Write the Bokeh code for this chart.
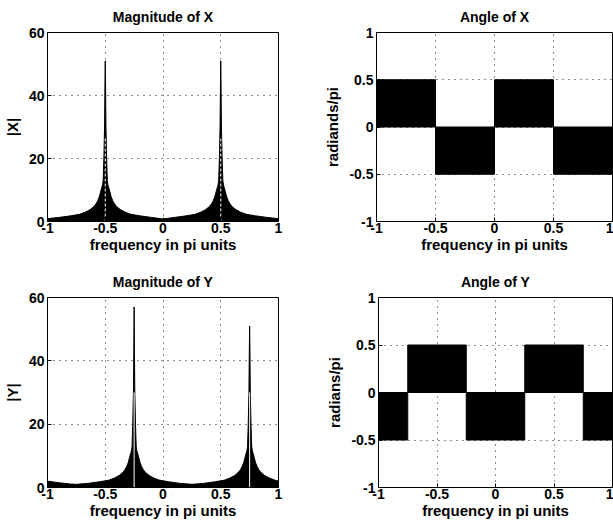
from bokeh.plotting import figure
from bokeh.layouts import column, row
from bokeh.models import Range1d, FixedTicker
from bokeh.embed import file_html
from bokeh.resources import INLINE

# ---------------- data ----------------
xtick_vals = [-1, -0.5, 0, 0.5, 1]
xtick_labels = ["-1", "-0.5", "0", "0.5", "1"]
mag_ticks = [0, 20, 40, 60]
mag_tick_labels = ["0", "20", "40", "60"]
ang_ticks = [-1, -0.5, 0, 0.5, 1]
ang_tick_labels = ["-1", "-0.5", "0", "0.5", "1"]

# |X| upper envelope (frequency in pi units)
freq_X = [-1.0, -0.9, -0.8, -0.72, -0.67, -0.63, -0.6, -0.58, -0.565, -0.55,
          -0.54, -0.53, -0.524, -0.518, -0.512, -0.506, -0.503, -0.5,
          -0.497, -0.494, -0.488, -0.482, -0.476, -0.47, -0.46, -0.45,
          -0.435, -0.42, -0.4, -0.37, -0.33, -0.28, -0.2, -0.1, 0.0,
          0.1, 0.2, 0.28, 0.33, 0.37, 0.4, 0.42, 0.435, 0.45, 0.46, 0.47,
          0.476, 0.482, 0.488, 0.494, 0.497, 0.5, 0.503, 0.506, 0.512,
          0.518, 0.524, 0.53, 0.54, 0.55, 0.565, 0.58, 0.6, 0.63, 0.67,
          0.72, 0.8, 0.9, 1.0]
mag_X = [0.9, 1.3, 1.8, 2.3, 3.0, 3.8, 4.7, 5.6, 6.6, 8.0,
         9.5, 10.8, 11.5, 13, 20, 30, 42, 51,
         42, 30, 20, 13, 11.5, 10.8, 9.5, 8.0,
         6.6, 5.6, 4.7, 3.8, 3.0, 2.3, 1.8, 1.3, 0.8,
         1.3, 1.8, 2.3, 3.0, 3.8, 4.7, 5.6, 6.6, 8.0, 9.5, 10.8,
         11.5, 13, 20, 30, 42, 51, 42, 30, 20,
         13, 11.5, 10.8, 9.5, 8.0, 6.6, 5.6, 4.7, 3.8, 3.0,
         2.3, 1.8, 1.3, 0.9]

# |Y| upper envelope
freq_Y = [-1.0, -0.9, -0.8, -0.75, -0.65, -0.55, -0.47, -0.42, -0.38, -0.35,
          -0.33, -0.315, -0.3, -0.29, -0.28, -0.274, -0.268, -0.262, -0.256,
          -0.253, -0.25, -0.247, -0.244, -0.238, -0.232, -0.226, -0.22, -0.21,
          -0.2, -0.185, -0.17, -0.15, -0.12, -0.08, -0.03, 0.05, 0.15, 0.25,
          0.35, 0.45, 0.53, 0.58, 0.62, 0.65, 0.67, 0.685, 0.7, 0.71, 0.72,
          0.726, 0.732, 0.738, 0.744, 0.747, 0.75, 0.753, 0.756, 0.762, 0.768,
          0.774, 0.78, 0.79, 0.8, 0.815, 0.83, 0.85, 0.88, 0.92, 0.97, 1.0]
mag_Y = [2.0, 1.5, 1.1, 1.0, 1.3, 1.8, 2.3, 3.0, 3.8, 4.7,
         5.6, 6.6, 8.0, 9.5, 10.8, 11.5, 13, 20, 30,
         42, 57, 42, 30, 20, 13, 11.5, 10.8, 9.5,
         8.0, 6.6, 5.6, 4.7, 3.8, 3.0, 2.3, 1.8, 1.3, 1.0,
         1.3, 1.8, 2.3, 3.0, 3.8, 4.7, 5.6, 6.6, 8.0, 9.5, 10.8,
         11.5, 13, 20, 30, 42, 51, 42, 30, 20, 13,
         11.5, 10.8, 9.5, 8.0, 6.6, 5.6, 4.7, 3.8, 3.0, 2.3, 2.0]

# light streaks inside the peaks
peaks_X = [-0.5, 0.5]
streak_top_X = [27, 27]
peaks_Y = [-0.25, 0.75]
streak_top_Y = [30, 30]

# angle blocks (radians/pi): edges and block level
ang_X_edges = [-1, -0.5, 0, 0.5, 1]
ang_X_level = [0.5, -0.5, 0.5, -0.5]
ang_Y_edges = [-1, -0.75, -0.25, 0.25, 0.75, 1]
ang_Y_level = [-0.5, 0.5, -0.5, 0.5, -0.5]

FONT = "Liberation Sans"
TITLE_FS = "14px"
TICK_FS = "14px"
LABEL_FS = "15px"


def make_fig(title, ylabel, yr, yticks, ylabels, width, height, ml, mr, mt, mb):
    p = figure(width=width, height=height, x_range=Range1d(-1, 1),
               y_range=Range1d(yr[0], yr[1]), output_backend="svg",
               toolbar_location=None, min_border_left=ml, min_border_right=mr,
               min_border_top=mt, min_border_bottom=mb)
    p.title.text = title
    p.title.align = "center"
    p.title.vertical_align = "middle"
    p.title.text_font = FONT
    p.title.text_font_size = TITLE_FS
    p.title.text_font_style = "bold"
    p.title.text_color = "black"
    p.title.standoff = 13
    p.outline_line_color = "black"
    p.outline_line_width = 1
    p.outline_line_alpha = 1
    p.background_fill_color = "white"
    p.border_fill_color = "white"
    p.xaxis.ticker = FixedTicker(ticks=xtick_vals)
    p.xaxis.major_label_overrides = {v: s for v, s in zip(xtick_vals, xtick_labels)}
    p.yaxis.ticker = FixedTicker(ticks=yticks)
    p.yaxis.major_label_overrides = {v: s for v, s in zip(yticks, ylabels)}
    p.xaxis.axis_label = "frequency in pi units"
    p.yaxis.axis_label = ylabel
    for ax in (p.xaxis, p.yaxis):
        ax.axis_line_color = "black"
        ax.major_tick_line_color = "black"
        ax.major_tick_in = 4
        ax.major_tick_out = 0
        ax.minor_tick_line_color = None
        ax.major_label_text_font = FONT
        ax.major_label_text_font_size = TICK_FS
        ax.major_label_text_font_style = "bold"
        ax.major_label_text_color = "black"
        ax.axis_label_text_font = FONT
        ax.axis_label_text_font_size = LABEL_FS
        ax.axis_label_text_font_style = "bold"
        ax.axis_label_text_color = "black"
    p.xaxis.major_label_standoff = 1
    p.yaxis.major_label_standoff = 3
    p.xaxis.axis_label_standoff = 0
    p.yaxis.axis_label_standoff = 5
    for g in (p.xgrid, p.ygrid):
        g.grid_line_color = "black"
        g.grid_line_dash = "1 5"
        g.grid_line_width = 1
        g.grid_line_alpha = 0.9
    p.xgrid.ticker = FixedTicker(ticks=xtick_vals)
    p.ygrid.ticker = FixedTicker(ticks=yticks)
    return p


# Magnitude of X
p1 = make_fig("Magnitude of X", "|X|", (0, 60), mag_ticks, mag_tick_labels,
              300, 260, 44, 22, 32, 39)
p1.varea(x=freq_X, y1=[0] * len(freq_X), y2=mag_X, fill_color="black")
p1.line(freq_X, mag_X, line_color="black", line_width=1)
p1.segment(x0=peaks_X, y0=[0, 0], x1=peaks_X, y1=streak_top_X,
           line_color="white", line_width=1, line_dash="3 2")

# Angle of X
p2 = make_fig("Angle of X", "radiands/pi", (-1, 1), ang_ticks, ang_tick_labels,
              313, 260, 76, 1, 31, 39)
p2.quad(left=ang_X_edges[:-1], right=ang_X_edges[1:], bottom=[0] * len(ang_X_level),
        top=ang_X_level, fill_color="black", line_color="black")

# Magnitude of Y
p3 = make_fig("Magnitude of Y", "|Y|", (0, 60), mag_ticks, mag_tick_labels,
              300, 265, 45, 22, 37, 37)
p3.varea(x=freq_Y, y1=[0] * len(freq_Y), y2=mag_Y, fill_color="black")
p3.line(freq_Y, mag_Y, line_color="black", line_width=1)
p3.segment(x0=peaks_Y, y0=[0, 0], x1=peaks_Y, y1=streak_top_Y,
           line_color="white", line_width=1)

# Angle of Y
p4 = make_fig("Angle of Y", "radians/pi", (-1, 1), ang_ticks, ang_tick_labels,
              313, 265, 78, 1, 34, 38)
p4.quad(left=ang_Y_edges[:-1], right=ang_Y_edges[1:], bottom=[0] * len(ang_Y_level),
        top=ang_Y_level, fill_color="black", line_color="black")

layout = column(row(p1, p2, spacing=0), row(p3, p4, spacing=0), spacing=0)
open("out.html", "w").write(file_html(layout, INLINE))
